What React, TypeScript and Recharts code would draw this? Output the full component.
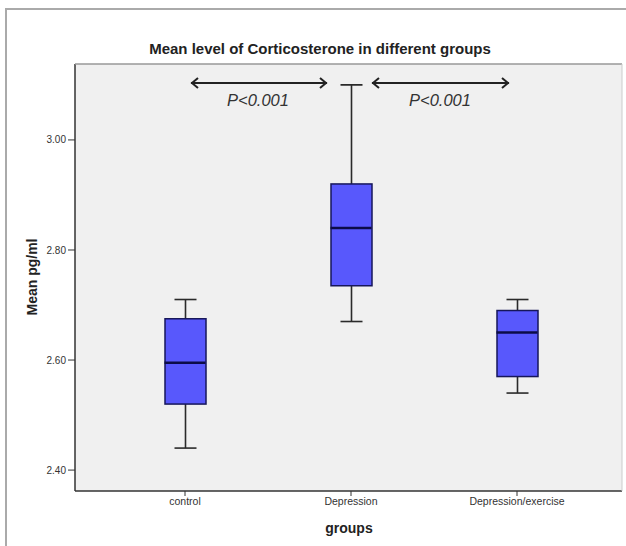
import {
  ComposedChart, Bar, Scatter, XAxis, YAxis, CartesianGrid
} from 'recharts';

const groups = ['control', 'Depression', 'Depression/exercise'];
const whiskerLow = [2.44, 2.67, 2.54];
const q1 = [2.52, 2.735, 2.57];
const median = [2.595, 2.84, 2.65];
const q3 = [2.675, 2.92, 2.69];
const whiskerHigh = [2.71, 3.1, 2.71];
const yTicks = [2.4, 2.6, 2.8, 3.0];

const data = groups.map((group, i) => ({
  group,
  whisker: [whiskerLow[i], whiskerHigh[i]],
  box: [q1[i], q3[i]],
  median: median[i],
}));

const font = '"Liberation Sans", Arial, sans-serif';
const BOX_W = 41;

function WhiskerShape(props: any) {
  const { x, y, width, height } = props;
  const cx = x + width / 2;
  const top = Math.min(y, y + height);
  const bottom = Math.max(y, y + height);
  return (
    <g stroke="#2a2a2a" strokeWidth={1.6}>
      <line x1={cx} x2={cx} y1={top} y2={bottom} />
      <line x1={cx - 11} x2={cx + 11} y1={top} y2={top} />
      <line x1={cx - 11} x2={cx + 11} y1={bottom} y2={bottom} />
    </g>
  );
}

function BoxShape(props: any) {
  const { x, y, width, height } = props;
  const top = Math.min(y, y + height);
  return (
    <rect x={x} y={top} width={width} height={Math.abs(height)}
      fill="#5858fc" stroke="#16165a" strokeWidth={1.5} />
  );
}

function MedianShape(props: any) {
  const { cx, cy } = props;
  return <line x1={cx - BOX_W / 2} x2={cx + BOX_W / 2} y1={cy} y2={cy} stroke="#0c0c48" strokeWidth={2.5} />;
}

function Arrow({ x1, x2, y }: { x1: number; x2: number; y: number }) {
  return (
    <g stroke="#222" strokeWidth={2} fill="none">
      <line x1={x1} x2={x2} y1={y} y2={y} />
      <polyline points={`${x1 + 7},${y - 5} ${x1 + 1},${y} ${x1 + 7},${y + 5}`} />
      <polyline points={`${x2 - 7},${y - 5} ${x2 - 1},${y} ${x2 - 7},${y + 5}`} />
    </g>
  );
}

export default function App() {
  return (
    <div style={{ position: 'absolute', left: 0, top: 0, width: 626, height: 546, background: '#fff' }}>
      <ComposedChart width={626} height={546} data={data}
        margin={{ top: 64, right: 4, bottom: 25, left: 35 }} barSize={BOX_W} barGap={-BOX_W}>
        <CartesianGrid fill="#f0f0f0" horizontal={false} vertical={false} />
        <XAxis dataKey="group" padding={{ left: 27, right: 22 }} height={30}
          axisLine={{ stroke: '#333', strokeWidth: 1.5 }} tickLine={{ stroke: '#333' }} tickSize={5}
          tick={{ fontSize: 10.5, fill: '#333', fontFamily: font }} interval={0} />
        <YAxis type="number" domain={[2.362, 3.138]} ticks={yTicks} allowDataOverflow width={40}
          tickFormatter={(v: number) => v.toFixed(2)}
          axisLine={{ stroke: '#333', strokeWidth: 1.5 }} tickLine={{ stroke: '#333' }} tickSize={7}
          tick={{ fontSize: 10, fill: '#333', fontFamily: font }} />
        <Bar dataKey="whisker" shape={<WhiskerShape />} isAnimationActive={false} />
        <Bar dataKey="box" shape={<BoxShape />} isAnimationActive={false} />
        <Scatter dataKey="median" shape={<MedianShape />} isAnimationActive={false} />
      </ComposedChart>
      <svg width={626} height={546} style={{ position: 'absolute', left: 0, top: 0, pointerEvents: 'none' }}>
        <line x1={6} x2={6} y1={8} y2={546} stroke="#aaa" strokeWidth={2} />
        <line x1={5} x2={626} y1={9} y2={9} stroke="#aaa" strokeWidth={2} />
        <line x1={75} x2={622} y1={64} y2={64} stroke="#999" strokeWidth={1.5} />
        <line x1={622} x2={622} y1={64} y2={491} stroke="#ccc" strokeWidth={1} />
        <text x={320} y={54} textAnchor="middle" fontFamily={font} fontWeight="bold" fontSize={15} fill="#222">
          Mean level of Corticosterone in different groups
        </text>
        <text x={349} y={533} textAnchor="middle" fontFamily={font} fontWeight="bold" fontSize={14} fill="#222">
          groups
        </text>
        <text x={0} y={0} transform="translate(37,277) rotate(-90)" textAnchor="middle" fontFamily={font}
          fontWeight="bold" fontSize={14} fill="#222">
          Mean pg/ml
        </text>
        <Arrow x1={191} x2={327} y={83} />
        <Arrow x1={372} x2={509} y={83} />
        <text x={258} y={106} textAnchor="middle" fontFamily={font} fontStyle="italic" fontSize={16.5} fill="#333">P&lt;0.001</text>
        <text x={440} y={106} textAnchor="middle" fontFamily={font} fontStyle="italic" fontSize={16.5} fill="#333">P&lt;0.001</text>
      </svg>
    </div>
  );
}
